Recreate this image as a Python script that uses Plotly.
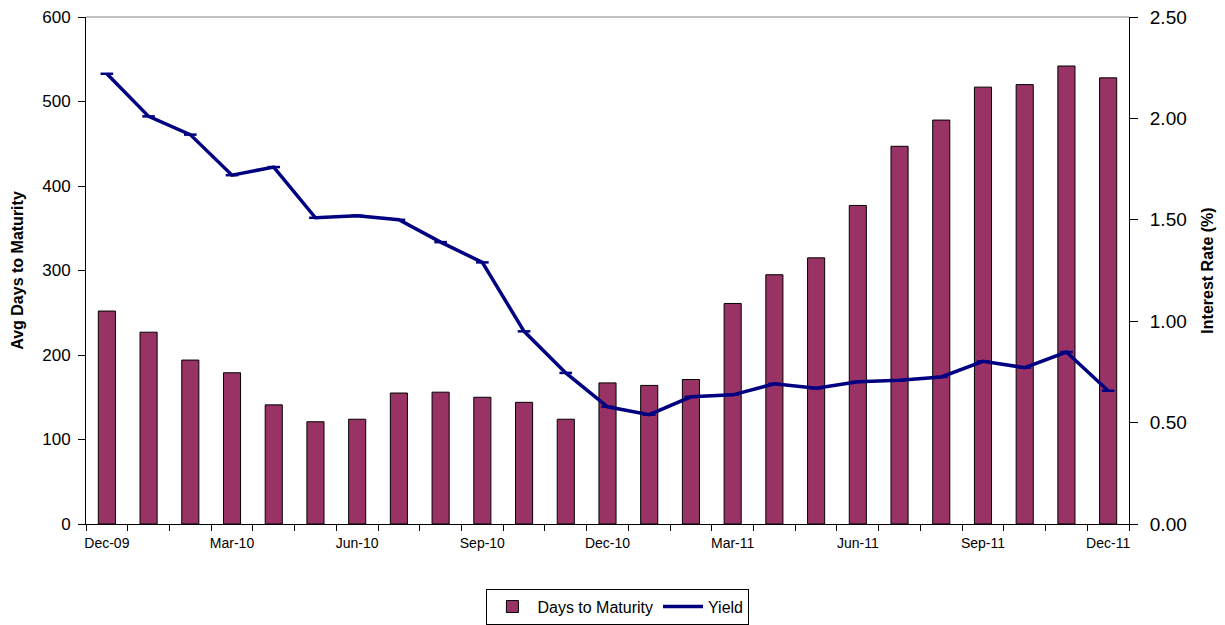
import plotly.graph_objects as go

months = ["Dec-09", "Jan-10", "Feb-10", "Mar-10", "Apr-10", "May-10", "Jun-10",
          "Jul-10", "Aug-10", "Sep-10", "Oct-10", "Nov-10", "Dec-10", "Jan-11",
          "Feb-11", "Mar-11", "Apr-11", "May-11", "Jun-11", "Jul-11", "Aug-11",
          "Sep-11", "Oct-11", "Nov-11", "Dec-11"]
days_to_maturity = [252, 227, 194, 179, 141, 121, 124, 155, 156, 150, 144, 124, 167,
                    164, 171, 261, 295, 315, 377, 447, 478, 517, 520, 542, 528]
yield_pct = [2.22, 2.01, 1.92, 1.72, 1.76, 1.51, 1.52, 1.50, 1.39, 1.29, 0.95, 0.745,
             0.578, 0.539, 0.627, 0.637, 0.691, 0.670, 0.701, 0.709, 0.725, 0.802,
             0.771, 0.848, 0.657]
label_every = 3
tick_text = [m if i % label_every == 0 else "" for i, m in enumerate(months)]
left_ticks = [0, 100, 200, 300, 400, 500, 600]
right_ticks = [0.0, 0.5, 1.0, 1.5, 2.0, 2.5]

FONT = "Liberation Sans, Arial, sans-serif"

fig = go.Figure()
fig.add_trace(go.Bar(
    x=months, y=days_to_maturity, name="Days to Maturity",
    marker=dict(color="#993366", line=dict(color="#000000", width=1)),
    yaxis="y"))
fig.add_trace(go.Scatter(
    x=months, y=yield_pct, name="Yield", mode="lines+markers",
    line=dict(color="#000080", width=3.5),
    marker=dict(symbol="line-ew", size=9, line=dict(color="#000080", width=2.5)),
    yaxis="y2"))

# page body has an 8px margin, so the figure is sized/offset to compensate
fig.update_layout(
    width=1217, height=617,
    margin=dict(l=78, r=96, t=9, b=101, autoexpand=False),
    paper_bgcolor="white", plot_bgcolor="white",
    font=dict(family=FONT, color="black"),
    bargap=0.59,
    showlegend=True,
    legend=dict(orientation="h", x=0.51, xanchor="center", y=-0.163, yanchor="middle",
                bordercolor="black", borderwidth=1, font=dict(size=16, family=FONT),
                itemwidth=40, tracegroupgap=0),
    xaxis=dict(type="category", tickmode="array", tickvals=months, ticktext=tick_text,
               range=[-0.5, len(months) - 0.5], autorange=False,
               tickson="boundaries", ticks="outside", ticklen=6, tickcolor="black",
               showline=True, linecolor="black", linewidth=1, showgrid=False,
               tickfont=dict(size=14, family=FONT), tickangle=0, automargin=False,
               ticklabelstandoff=6, ticklabeloverflow="allow"),
    yaxis=dict(range=[0, 600], tickvals=left_ticks, ticks="outside", ticklen=7,
               tickcolor="black", showline=True, linecolor="black", linewidth=1,
               showgrid=False, zeroline=False, tickfont=dict(size=17, family=FONT),
               automargin=False, ticklabelstandoff=4, ticklabeloverflow="allow",
               title=dict(text="<b>Avg Days to Maturity</b>", font=dict(size=16, family=FONT),
                          standoff=14)),
    yaxis2=dict(range=[0, 2.5], tickvals=right_ticks, tickformat=".2f", overlaying="y",
                side="right", ticks="outside", ticklen=8, tickcolor="black",
                showline=True, linecolor="black", linewidth=1, showgrid=False,
                zeroline=False, tickfont=dict(size=19, family=FONT), automargin=False,
                ticklabelstandoff=8, ticklabeloverflow="allow",
                title=dict(text="<b>Interest Rate (%)</b>", font=dict(size=16, family=FONT),
                           standoff=16)),
    shapes=[dict(type="line", xref="paper", yref="paper", x0=0, x1=1, y0=1, y1=1,
                 line=dict(color="#808080", width=1))],
)

fig.write_html("out.html")
